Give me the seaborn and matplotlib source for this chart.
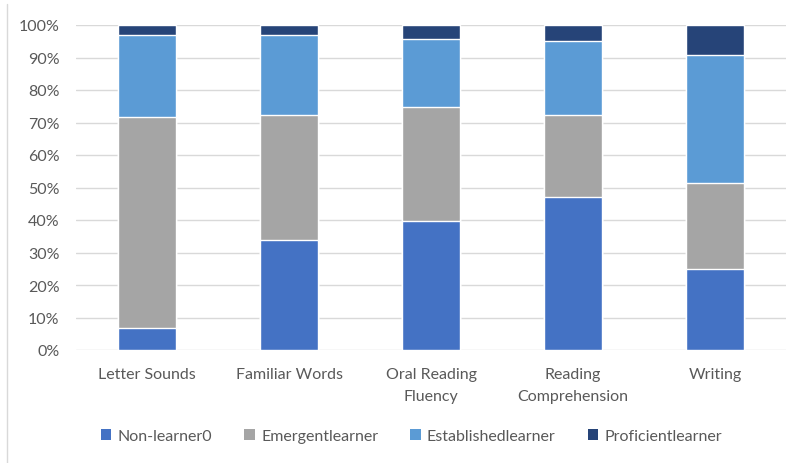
import matplotlib
matplotlib.use("Agg")
import matplotlib.pyplot as plt
from matplotlib.patches import Patch
from matplotlib.lines import Line2D
from matplotlib.ticker import PercentFormatter
import numpy as np
import pandas as pd
import seaborn as sns

categories = ["Letter Sounds", "Familiar Words", "Oral Reading\nFluency",
              "Reading\nComprehension", "Writing"]
series_names = ["Non-learner0", "Emergentlearner", "Establishedlearner", "Proficientlearner"]
non_learner = [6.8, 34.0, 39.6, 47.0, 24.8]
emergent = [64.9, 38.3, 35.2, 25.3, 26.5]
established = [25.3, 24.7, 20.9, 22.8, 39.5]
proficient = [3.0, 3.0, 4.3, 4.9, 9.2]
colors = ["#4472C4", "#A5A5A5", "#5B9BD5", "#264478"]

sns.set_theme(style="white")
plt.rcParams["font.family"] = ["Lato", "DejaVu Sans"]

df = pd.DataFrame({"category": categories,
                   series_names[0]: non_learner,
                   series_names[1]: emergent,
                   series_names[2]: established,
                   series_names[3]: proficient})

fig = plt.figure(figsize=(7.99, 4.64), dpi=100)
ax = fig.add_axes([76 / 799, 1 - 351 / 464, 710 / 799, 325 / 464])

# stacked bars: draw cumulative totals from the top layer down
cum = df[series_names].cumsum(axis=1)
for name, color in reversed(list(zip(series_names, colors))):
    sns.barplot(x=df["category"], y=cum[name], color=color, width=0.41,
                saturation=1, ax=ax, zorder=3)

ax.set_ylim(0, 100)
ax.set_yticks(np.arange(0, 101, 10))
ax.yaxis.set_major_formatter(PercentFormatter(decimals=0))
ax.grid(axis="y", color="#D9D9D9", linewidth=1, zorder=0)
ax.set_axisbelow(True)
for s in ax.spines.values():
    s.set_visible(False)
ax.set_xlabel("")
ax.set_ylabel("")
ax.tick_params(axis="both", length=0, labelsize=11.5, labelcolor="#595959")
ax.tick_params(axis="x", pad=12)
ax.tick_params(axis="y", pad=12)
for lbl in ax.get_xticklabels():
    lbl.set_linespacing(1.75)
    lbl.set_verticalalignment("top")
ax.set_xlim(-0.5, 4.5)

handles = [Patch(facecolor=c, edgecolor="none") for c in colors]
fig.legend(handles, series_names, loc="center", bbox_to_anchor=(0.515, 0.058),
           ncol=4, frameon=False, fontsize=11.5, handlelength=0.65, handleheight=0.65,
           handletextpad=0.4, columnspacing=2.0, labelcolor="#595959")

# chart frame line on the left
fig.add_artist(Line2D([7 / 799, 7 / 799], [0, 0.99], color="#D9D9D9", linewidth=1))

fig.savefig("out.png", dpi=100)
